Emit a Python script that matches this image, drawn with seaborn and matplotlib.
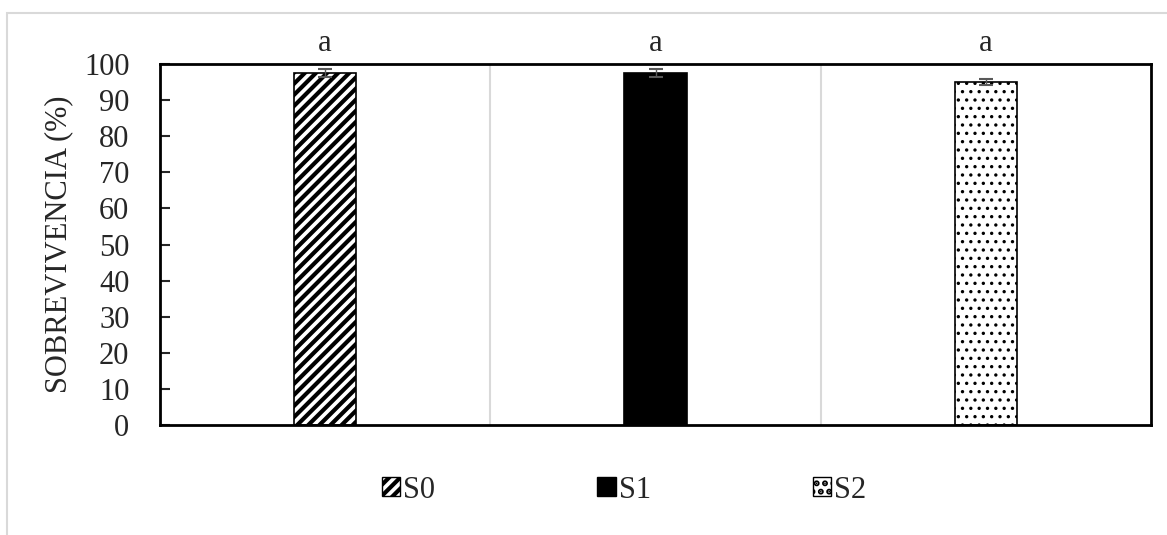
import numpy as np
import pandas as pd
import matplotlib
matplotlib.use("Agg")
import matplotlib.pyplot as plt
import seaborn as sns
from matplotlib.patches import Rectangle, Patch

# datos
tratamientos = ["S0", "S1", "S2"]
sobrevivencia = [97.5, 97.5, 95.0]
error = [1.0, 1.0, 0.9]
letras = ["a", "a", "a"]
hatches = ["///", "", ".."]
hatch_lw = [3.0, 1.0, 1.2]
colores = ["white", "black", "white"]

df = pd.DataFrame({"trat": tratamientos, "sob": sobrevivencia})

sns.set_style("white")
plt.rcParams["font.family"] = ["Liberation Serif", "DejaVu Serif"]
plt.rcParams["hatch.linewidth"] = 3.0

fig = plt.figure(figsize=(11.67, 5.35), dpi=100)
ax = fig.add_axes([160 / 1167, 1 - 425 / 535, (1151 - 160) / 1167, (425 - 64) / 535])

sns.barplot(data=df, x="trat", y="sob", hue="trat", palette=colores,
            width=0.188, edgecolor="black", linewidth=1.2, ax=ax,
            legend=False, errorbar=None)

for bar, h, lw in zip(ax.patches, hatches, hatch_lw):
    bar.set_hatch(h)
    if hasattr(bar, "set_hatch_linewidth"):
        bar.set_hatch_linewidth(lw)

ax.errorbar(range(len(tratamientos)), sobrevivencia, yerr=error, fmt="none",
            ecolor="#595959", elinewidth=1, capsize=5, capthick=1.5)

for i, l in enumerate(letras):
    ax.text(i, 101.8, l, ha="center", va="bottom", fontsize=22)

ax.set_xlim(-0.5, 2.5)
ax.set_ylim(0, 100)
ax.set_yticks(range(0, 101, 10))
ax.tick_params(axis="y", labelsize=22, direction="in", length=7, width=1.5, left=True, pad=22)
ax.set_xticks([])
ax.set_xlabel("")
ax.set_ylabel("SOBREVIVENCIA (%)", fontsize=22, labelpad=8)
for x in [0.5, 1.5]:
    ax.axvline(x, color="#d9d9d9", linewidth=1.5, zorder=0)
for s in ax.spines.values():
    s.set_visible(True)
    s.set_color("black")
    s.set_linewidth(2)

handles = []
for t, c, h, lw in zip(tratamientos, colores, hatches, hatch_lw):
    p = Patch(facecolor=c, edgecolor="black", hatch=h, label=t)
    if hasattr(p, "set_hatch_linewidth"):
        p.set_hatch_linewidth(min(lw, 1.2))
    handles.append(p)
fig.legend(handles=handles, loc="center", bbox_to_anchor=(624 / 1167, 1 - 490 / 535),
           ncol=3, frameon=False, fontsize=22, handlelength=0.6, handleheight=0.6,
           handletextpad=0.1, columnspacing=5.3)

fig.patches.append(Rectangle((7 / 1167, -0.05), 1.2, 1 - 13 / 535 + 0.05,
                             transform=fig.transFigure, fill=False,
                             edgecolor="#d9d9d9", linewidth=1.5))

fig.savefig("out.png", dpi=100)
